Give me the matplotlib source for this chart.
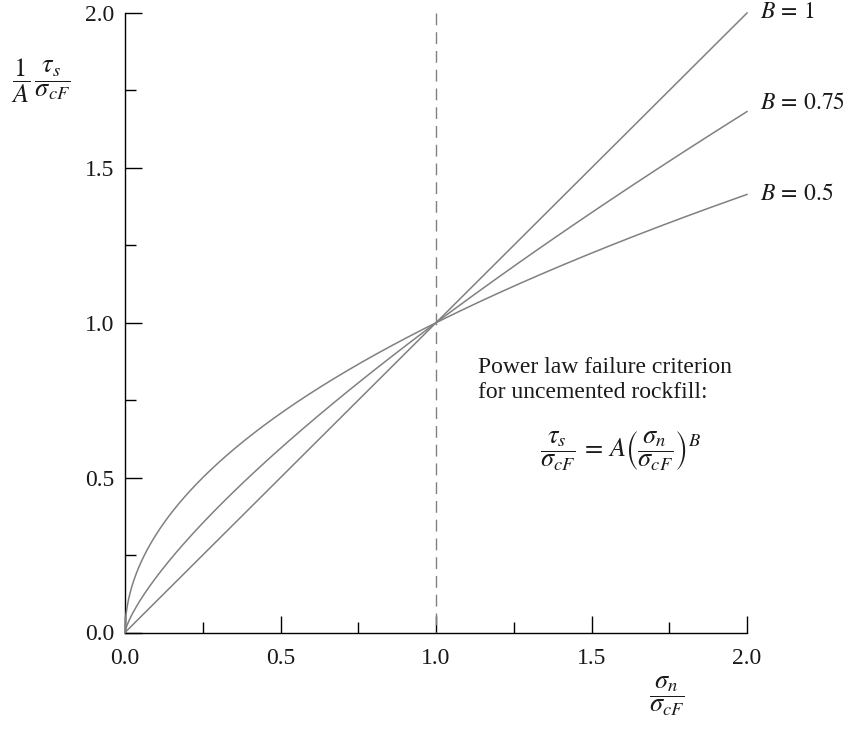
import numpy as np
import matplotlib
matplotlib.use("Agg")
import matplotlib.pyplot as plt

# Data: exponents of power-law curves y = x**B
B_values = [1.0, 0.75, 0.5]
B_labels = [r"$B\,=\,1$", r"$B\,=\,0.75$", r"$B\,=\,0.5$"]
x_ticks = [0.0, 0.5, 1.0, 1.5, 2.0]
y_ticks = [0.0, 0.5, 1.0, 1.5, 2.0]
minor_ticks = [0.25, 0.75, 1.25, 1.75]
tick_labels = ["0.0", "0.5", "1.0", "1.5", "2.0"]

plt.rcParams['font.family'] = ['Liberation Serif', 'DejaVu Serif']
plt.rcParams['mathtext.fontset'] = 'stix'

W, H = 848, 731
fig = plt.figure(figsize=(W/100, H/100), dpi=100)
ax = fig.add_axes([125/W, 1-632.5/H, (747-125)/W, (632.5-13)/H])

x = np.linspace(0, 2, 1000)
gray = '#808080'
label_offsets = [0.0, 0.027, 0.0]
for B, lab, off in zip(B_values, B_labels, label_offsets):
    ax.plot(x, x**B, color=gray, lw=1.1, clip_on=False, zorder=3)
    ax.text(2.042, 2**B + off, lab, fontsize=17, va='center', ha='left', color='#1a1a1a')

ax.plot([1, 1], [2, 0], color=gray, lw=1.0, ls=(0, (8.5, 5)))

ax.set_xlim(0, 2)
ax.set_ylim(0, 2)
ax.spines['top'].set_visible(False)
ax.spines['right'].set_visible(False)
for s in ['left', 'bottom']:
    ax.spines[s].set_linewidth(1.0)

ax.set_xticks(x_ticks)
ax.set_xticklabels(tick_labels)
ax.set_yticks(y_ticks)
ax.set_yticklabels(tick_labels)
ax.set_xticks(minor_ticks, minor=True)
ax.set_yticks(minor_ticks, minor=True)
ax.tick_params(which='major', direction='in', length=12, width=1.0, labelsize=17,
               labelcolor='#1a1a1a')
ax.tick_params(which='minor', direction='in', length=8, width=1.0)
ax.tick_params(axis='x', which='major', pad=11)
ax.tick_params(axis='y', which='major', pad=7.5)

fig.text(667/W, 1-696/H, r"$\dfrac{\sigma_n}{\sigma_{cF}}$", fontsize=19,
         ha='center', va='center', color='#1a1a1a')
fig.text(41/W, 1-81/H, r"$\dfrac{1}{A}\,\dfrac{\tau_s}{\sigma_{cF}}$", fontsize=19,
         ha='center', va='center', color='#1a1a1a')

ax.text(1.135, 0.815, "Power law failure criterion\nfor uncemented rockfill:", fontsize=17,
        ha='left', va='center', linespacing=1.28, color='#1a1a1a')
ax.text(1.592, 0.586, r"$\dfrac{\tau_s}{\sigma_{cF}}\,=\,A\left(\dfrac{\sigma_n}{\sigma_{cF}}\right)^B$",
        fontsize=19, ha='center', va='center', color='#1a1a1a')

fig.savefig("out.png", dpi=100)
